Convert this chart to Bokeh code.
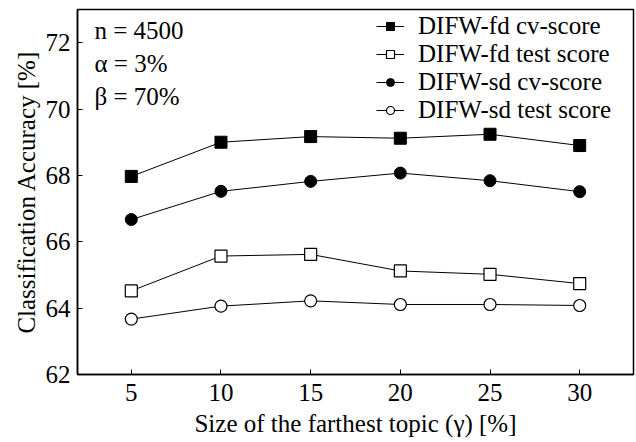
from bokeh.plotting import figure
from bokeh.models import Legend, LegendItem, Label, Range1d, FixedTicker
from bokeh.embed import file_html
from bokeh.resources import INLINE

gamma = [5, 10, 15, 20, 25, 30]
fd_cv = [67.97, 69.0, 69.17, 69.12, 69.24, 68.9]
fd_test = [64.52, 65.57, 65.62, 65.12, 65.02, 64.74]
sd_cv = [66.67, 67.52, 67.82, 68.07, 67.84, 67.51]
sd_test = [63.67, 64.06, 64.22, 64.11, 64.11, 64.08]
x_ticks = [5, 10, 15, 20, 25, 30]
y_ticks = [62, 64, 66, 68, 70, 72]
notes = ["n = 4500", "α = 3%", "β = 70%"]
series_names = ["DIFW-fd cv-score", "DIFW-fd test score", "DIFW-sd cv-score", "DIFW-sd test score"]

FONT = "Liberation Serif"
FS = "25px"

p = figure(width=636, height=442, output_backend="svg", toolbar_location=None,
           x_range=Range1d(2, 33), y_range=Range1d(62, 73),
           min_border_left=77, min_border_right=3, min_border_top=9, min_border_bottom=68)
p.xgrid.visible = False
p.ygrid.visible = False
p.outline_line_color = "black"
p.outline_line_width = 1.5
p.background_fill_color = "white"
p.border_fill_color = "white"

for ax in (p.xaxis[0], p.yaxis[0]):
    ax.axis_line_width = 1.5
    ax.major_tick_in = 5
    ax.major_tick_out = 0
    ax.major_tick_line_width = 1
    ax.minor_tick_line_color = None
    ax.major_label_text_font = FONT
    ax.major_label_text_font_size = FS
    ax.major_label_text_color = "black"
    ax.axis_label_text_font = FONT
    ax.axis_label_text_font_size = FS
    ax.axis_label_text_font_style = "normal"
    ax.axis_label_text_color = "black"

p.xaxis.ticker = FixedTicker(ticks=x_ticks)
p.yaxis.ticker = FixedTicker(ticks=y_ticks)
p.xaxis.axis_label = "Size of the farthest topic (γ) [%]"
p.yaxis.axis_label = "Classification Accuracy [%]"
p.xaxis.major_label_standoff = 9
p.yaxis.major_label_standoff = 7
p.xaxis.axis_label_standoff = 6
p.yaxis.axis_label_standoff = 3

lw = 1.0
l1 = p.line(gamma, fd_cv, line_color="black", line_width=lw)
m1 = p.scatter(gamma, fd_cv, marker="square", size=12, fill_color="black", line_color="black")
l2 = p.line(gamma, fd_test, line_color="black", line_width=lw)
m2 = p.scatter(gamma, fd_test, marker="square", size=12, fill_color="white", line_color="black", line_width=1.2)
l3 = p.line(gamma, sd_cv, line_color="black", line_width=lw)
m3 = p.scatter(gamma, sd_cv, marker="circle", size=12, fill_color="black", line_color="black")
l4 = p.line(gamma, sd_test, line_color="black", line_width=lw)
m4 = p.scatter(gamma, sd_test, marker="circle", size=12, fill_color="white", line_color="black", line_width=1.2)

legend = Legend(items=[
    LegendItem(label=series_names[0], renderers=[l1, m1]),
    LegendItem(label=series_names[1], renderers=[l2, m2]),
    LegendItem(label=series_names[2], renderers=[l3, m3]),
    LegendItem(label=series_names[3], renderers=[l4, m4]),
], location=(299, 250))
legend.background_fill_alpha = 0
legend.border_line_color = None
legend.label_text_font = FONT
legend.label_text_font_size = FS
legend.label_text_line_height = 1.0
legend.label_text_color = "black"
legend.glyph_width = 28
legend.glyph_height = 20
legend.label_height = 20
legend.spacing = -13
legend.padding = 4
legend.margin = 0
legend.label_standoff = 14
p.add_layout(legend, "center")

for i, t in enumerate(notes):
    p.add_layout(Label(x=17, y=344 - 33 * i, x_units="screen", y_units="screen", text=t,
                       text_font=FONT, text_font_size=FS, text_baseline="middle",
                       text_color="black"))

open("out.html", "w").write(file_html(p, INLINE))
